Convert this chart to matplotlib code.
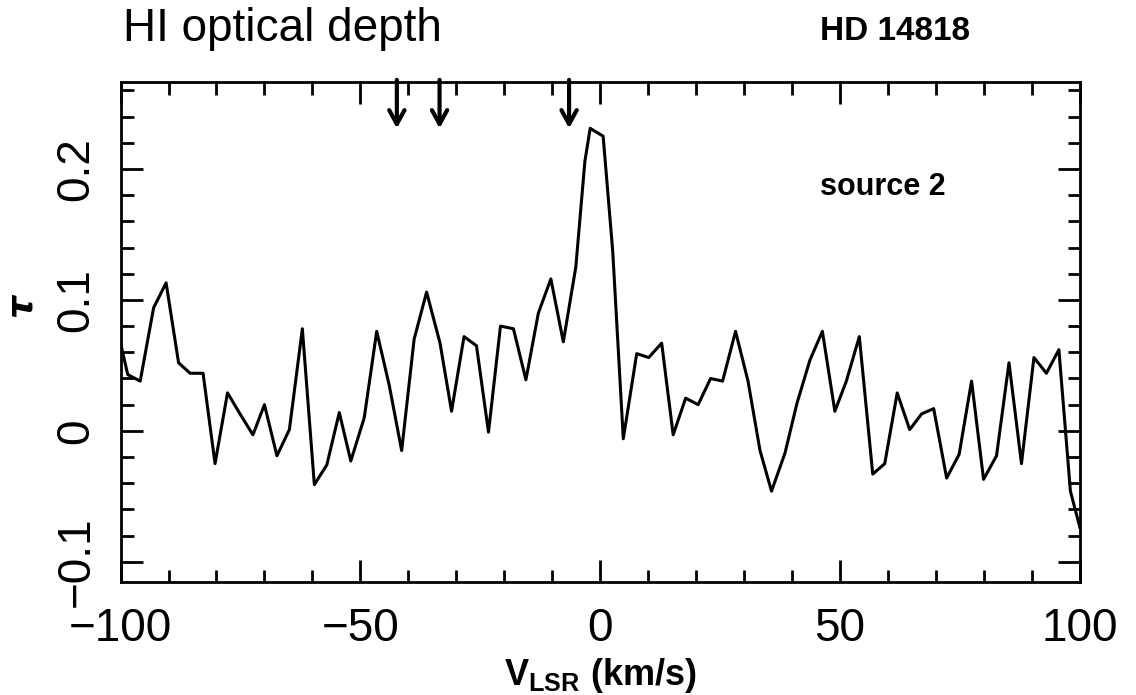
import numpy as np
import matplotlib
matplotlib.use('Agg')
import matplotlib.pyplot as plt
from matplotlib.ticker import MultipleLocator

# velocity (km/s) and optical depth
vel = [-100.6, -98.5, -95.9, -93.1, -90.5, -87.9, -85.5, -82.8, -80.3, -77.7,
       -75.1, -72.4, -70.0, -67.4, -64.8, -62.1, -59.6, -57.0, -54.4, -52.0,
       -49.2, -46.6, -44.0, -41.4, -38.8, -36.2, -33.4, -31.0, -28.4, -25.8,
       -23.3, -20.8, -18.1, -15.5, -12.9, -10.3, -7.7, -5.1, -3.2, -2.1,
       0.6, 2.6, 4.8, 7.6, 10.1, 12.8, 15.2, 17.8, 20.4, 23.0,
       25.5, 28.2, 30.8, 33.3, 35.7, 38.5, 41.0, 43.7, 46.3, 48.9,
       51.3, 54.0, 56.8, 59.3, 61.9, 64.5, 67.0, 69.5, 72.2, 74.8,
       77.4, 79.9, 82.6, 85.2, 87.8, 90.4, 93.0, 95.6, 98.0, 100.0]
tau = [0.077, 0.043, 0.038, 0.094, 0.113, 0.052, 0.044, 0.044, -0.025, 0.029,
       0.013, -0.003, 0.020, -0.019, 0.001, 0.078, -0.041, -0.026, 0.014, -0.023,
       0.010, 0.076, 0.035, -0.015, 0.070, 0.106, 0.067, 0.015, 0.072, 0.065,
       -0.001, 0.080, 0.078, 0.039, 0.090, 0.116, 0.068, 0.125, 0.206, 0.231,
       0.225, 0.137, -0.006, 0.059, 0.056, 0.067, -0.003, 0.025, 0.020, 0.040,
       0.038, 0.076, 0.038, -0.015, -0.046, -0.017, 0.021, 0.054, 0.076, 0.015,
       0.038, 0.072, -0.033, -0.025, 0.029, 0.001, 0.013, 0.017, -0.036, -0.018,
       0.038, -0.037, -0.019, 0.052, -0.025, 0.056, 0.044, 0.062, -0.046, -0.074]

# velocities of the marked components
arrow_vel = [-42.4, -33.5, -6.5]

plt.rcParams['mathtext.fontset'] = 'custom'
plt.rcParams['mathtext.bf'] = 'Liberation Sans:bold'
plt.rcParams['mathtext.rm'] = 'Liberation Sans'

fig = plt.figure(figsize=(11.36, 6.95), dpi=100)
ax = fig.add_axes([0.1061, 0.1633, 0.8446, 0.718])

ax.plot(vel, tau, color='black', lw=2.2)
ax.set_xlim(-100, 100)
ax.set_ylim(-0.115, 0.266)

# arrows hanging from the top frame
for v in arrow_vel:
    ax.annotate('', xy=(v, 0.231), xytext=(v, 0.268),
                arrowprops=dict(arrowstyle='->,head_length=1.0,head_width=0.55',
                                color='black', lw=3.0, shrinkA=0, shrinkB=0))

ax.xaxis.set_major_locator(MultipleLocator(50))
ax.xaxis.set_minor_locator(MultipleLocator(10))
ax.yaxis.set_major_locator(MultipleLocator(0.1))
ax.yaxis.set_minor_locator(MultipleLocator(0.02))
ax.tick_params(which='both', direction='in', top=True, right=True, width=2.0, color='black')
ax.tick_params(which='major', length=16)
ax.tick_params(which='minor', length=9)
ax.tick_params(axis='x', which='major', pad=18)
ax.tick_params(axis='y', which='major', pad=16)
for s in ax.spines.values():
    s.set_linewidth(2.0)

ax.set_xticks([-100, -50, 0, 50, 100])
ax.set_xticklabels(['\u2212100', '\u221250', '0', '50', '100'],
                   fontsize=33, family='Liberation Sans')
ax.set_yticks([-0.1, 0, 0.1, 0.2])
ax.set_yticklabels(['\u22120.1', '0', '0.1', '0.2'], fontsize=33,
                   family='Liberation Sans', rotation=90, va='center')

ax.set_xlabel(r'$\mathbf{V_{LSR}}$ (km/s)', fontsize=26, fontweight='bold',
              family='Liberation Sans', labelpad=4)
fig.text(0.018, 0.56, '\u03c4', fontsize=26, fontweight='bold', style='italic',
         rotation=90, ha='center', va='center')

fig.text(0.108, 0.958, 'HI optical depth', fontsize=33, family='Liberation Sans',
         ha='left', va='center')
fig.text(0.722, 0.955, 'HD 14818', fontsize=24, fontweight='bold',
         family='Liberation Sans', ha='left', va='center')
ax.text(0.729, 0.79, 'source 2', transform=ax.transAxes, fontsize=22,
        fontweight='bold', family='Liberation Sans', ha='left', va='center')

fig.savefig('out.png', dpi=100)
